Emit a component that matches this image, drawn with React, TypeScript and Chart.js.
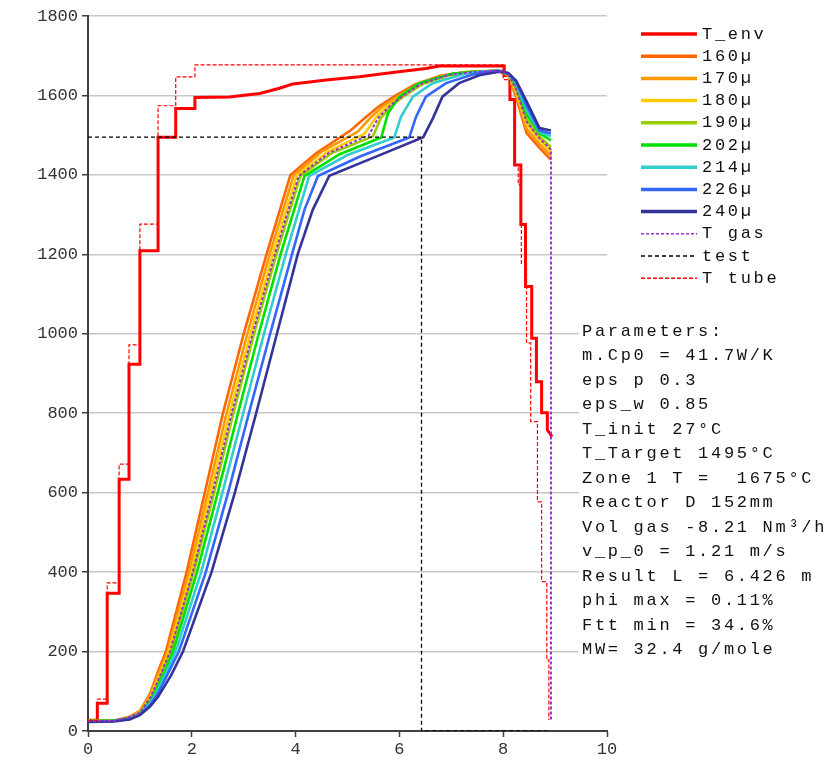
import React, { useEffect, useRef } from "react";
import { Chart, registerables } from "chart.js";

Chart.register(...registerables);

type Pt = [number, number];

// Axis ticks
const xTicks = [0, 2, 4, 6, 8, 10];
const yTicks = [0, 200, 400, 600, 800, 1000, 1200, 1400, 1600, 1800];

// Environment temperature (stepped furnace zones)
const tEnv: Pt[] = [
  [0, 27], [0.18, 27], [0.18, 70], [0.37, 70], [0.37, 347], [0.6, 347], [0.6, 634],
  [0.79, 634], [0.79, 923], [1.0, 923], [1.0, 1209], [1.35, 1209], [1.35, 1495],
  [1.69, 1495], [1.69, 1567], [2.06, 1567], [2.06, 1595], [2.73, 1596], [3.05, 1601],
  [3.31, 1605], [3.69, 1618], [3.95, 1629], [4.59, 1639], [5.23, 1647], [5.87, 1658],
  [6.51, 1668], [6.77, 1674], [8.02, 1674], [8.02, 1650], [8.13, 1650], [8.13, 1590],
  [8.22, 1590], [8.22, 1425], [8.34, 1425], [8.34, 1275], [8.43, 1275], [8.43, 1119],
  [8.55, 1119], [8.55, 989], [8.64, 989], [8.64, 879], [8.74, 879], [8.74, 801],
  [8.85, 801], [8.85, 758], [8.94, 741],
];

// Particle temperatures by diameter
const p160: Pt[] = [
  [0, 25], [0.5, 26], [0.8, 36], [1.0, 50], [1.2, 95], [1.35, 150], [1.5, 200], [1.9, 400],
  [2.25, 600], [2.6, 800], [3.0, 1000], [3.44, 1200], [3.9, 1400], [4.4, 1455], [5.07, 1513],
  [5.35, 1545], [5.6, 1572], [5.9, 1598], [6.3, 1628], [6.8, 1650], [7.3, 1659], [7.9, 1662],
  [8.1, 1650], [8.25, 1595], [8.45, 1505], [8.7, 1468], [8.92, 1438],
];
const p170: Pt[] = [
  [0, 25], [0.5, 26], [0.8, 35], [1.0, 48], [1.2, 90], [1.35, 140], [1.53, 200], [1.95, 400],
  [2.31, 600], [2.67, 800], [3.07, 1000], [3.5, 1200], [3.96, 1398], [4.5, 1458], [5.2, 1509],
  [5.45, 1545], [5.7, 1574], [6.0, 1600], [6.35, 1628], [6.85, 1650], [7.3, 1659], [7.9, 1662],
  [8.1, 1651], [8.25, 1603], [8.45, 1516], [8.7, 1478], [8.92, 1448],
];
const p180: Pt[] = [
  [0, 25], [0.5, 26], [0.8, 34], [1.0, 46], [1.2, 85], [1.35, 131], [1.56, 200], [1.99, 400],
  [2.36, 600], [2.73, 800], [3.13, 1000], [3.56, 1200], [4.02, 1398], [4.6, 1457], [5.33, 1504],
  [5.55, 1545], [5.8, 1576], [6.05, 1601], [6.4, 1629], [6.9, 1651], [7.4, 1659], [7.9, 1662],
  [8.1, 1652], [8.25, 1611], [8.45, 1528], [8.7, 1488], [8.92, 1458],
];
const p190: Pt[] = [
  [0, 25], [0.5, 26], [0.8, 33], [1.0, 45], [1.2, 80], [1.35, 122], [1.6, 200], [2.04, 400],
  [2.43, 600], [2.8, 800], [3.2, 1000], [3.63, 1200], [4.09, 1397], [4.7, 1455], [5.49, 1497],
  [5.65, 1545], [5.9, 1580], [6.15, 1604], [6.45, 1629], [6.95, 1651], [7.4, 1659], [7.9, 1662],
  [8.1, 1653], [8.25, 1619], [8.45, 1540], [8.7, 1497], [8.92, 1470],
];
const p202: Pt[] = [
  [0, 25], [0.5, 26], [0.8, 32], [1.0, 43], [1.2, 75], [1.35, 112], [1.64, 200], [2.1, 400],
  [2.5, 600], [2.89, 800], [3.29, 1000], [3.71, 1200], [4.17, 1397], [4.85, 1452], [5.65, 1494],
  [5.78, 1555], [6.0, 1597], [6.38, 1631], [7.03, 1655], [7.5, 1660], [7.9, 1662],
  [8.1, 1654], [8.25, 1626], [8.45, 1552], [8.7, 1505], [8.92, 1487],
];
const p214: Pt[] = [
  [0, 24], [0.5, 25], [0.8, 31], [1.0, 42], [1.2, 70], [1.35, 104], [1.69, 200], [2.18, 400],
  [2.59, 600], [2.99, 800], [3.39, 1000], [3.81, 1200], [4.26, 1397], [5.0, 1450], [5.9, 1494],
  [6.03, 1546], [6.26, 1597], [6.64, 1631], [7.28, 1655], [7.6, 1660], [7.9, 1662],
  [8.1, 1655], [8.25, 1630], [8.45, 1564], [8.7, 1508], [8.92, 1497],
];
const p226: Pt[] = [
  [0, 24], [0.5, 25], [0.8, 30], [1.0, 41], [1.2, 66], [1.35, 95], [1.75, 200], [2.27, 400],
  [2.7, 600], [3.1, 800], [3.51, 1000], [3.93, 1200], [4.17, 1312], [4.43, 1397], [5.25, 1447],
  [6.19, 1494], [6.32, 1546], [6.51, 1597], [6.9, 1631], [7.41, 1653], [7.7, 1660], [7.95, 1662],
  [8.1, 1656], [8.25, 1634], [8.45, 1575], [8.7, 1512], [8.92, 1504],
];
const p240: Pt[] = [
  [0, 23], [0.5, 24], [0.8, 29], [1.0, 40], [1.2, 62], [1.35, 86], [1.6, 140], [1.83, 200],
  [2.38, 400], [2.83, 600], [3.24, 800], [3.64, 1000], [4.04, 1200], [4.33, 1312], [4.65, 1398],
  [5.55, 1446], [6.46, 1495], [6.64, 1541], [6.83, 1597], [7.15, 1631], [7.54, 1651], [7.92, 1660],
  [8.1, 1656], [8.25, 1637], [8.45, 1585], [8.7, 1518], [8.92, 1512],
];

// Gas temperature
const tGas: Pt[] = [
  [0, 25], [0.5, 26], [0.8, 35], [1.0, 46], [1.2, 84], [1.35, 127], [1.58, 200], [2.02, 400],
  [2.4, 600], [2.77, 800], [3.17, 1000], [3.6, 1200], [4.06, 1397], [4.65, 1456], [5.41, 1500],
  [5.6, 1545], [5.85, 1578], [6.1, 1602], [6.42, 1629], [6.92, 1651], [7.4, 1659], [7.9, 1662],
  [8.1, 1652], [8.25, 1615], [8.45, 1534], [8.7, 1492], [8.92, 1464], [8.92, 28],
];

// Target temperature and resulting length
const testLine: Pt[] = [[0, 1495], [6.426, 1495], [6.426, 0], [8.85, 0]];

// Tube wall temperature
const tTube: Pt[] = [
  [0, 27], [0.18, 27], [0.18, 80], [0.37, 80], [0.37, 373], [0.6, 373], [0.6, 672],
  [0.79, 672], [0.79, 972], [1.0, 972], [1.0, 1276], [1.35, 1276], [1.35, 1574],
  [1.69, 1574], [1.69, 1647], [2.06, 1647], [2.06, 1677], [8.0, 1677], [8.0, 1640],
  [8.12, 1640], [8.12, 1590], [8.22, 1590], [8.22, 1425], [8.29, 1425], [8.29, 1375],
  [8.35, 1375], [8.35, 1177], [8.45, 1177], [8.45, 977], [8.53, 977], [8.53, 779],
  [8.66, 779], [8.66, 577], [8.74, 577], [8.74, 376], [8.84, 376], [8.84, 179],
  [8.88, 179], [8.88, 28],
];

const seriesLabels = ["T_env", "160µ", "170µ", "180µ", "190µ", "202µ", "214µ", "226µ", "240µ", "T gas", "test", "T tube"];
const seriesData: Pt[][] = [tEnv, p160, p170, p180, p190, p202, p214, p226, p240, tGas, testLine, tTube];
const seriesColors = ["#ff0000", "#ff6600", "#ff9900", "#ffcc00", "#99cc00", "#00e000", "#33cccc", "#3366ff", "#333399", "#9b30c8", "#000000", "#ff0000"];
const seriesWidths = [3, 2.6, 2.6, 2.6, 2.6, 2.6, 2.6, 2.6, 2.6, 2, 1.3, 1.2];
const seriesDashes: number[][] = [[], [], [], [], [], [], [], [], [], [3, 2], [4, 3], [4, 2]];

const parameterLines = [
  "Parameters:",
  "m.Cp0 = 41.7W/K",
  "eps p 0.3",
  "eps_w 0.85",
  "T_init 27°C",
  "T_Target 1495°C",
  "Zone 1 T =  1675°C",
  "Reactor D 152mm",
  "Vol gas -8.21 Nm³/h",
  "v_p_0 = 1.21 m/s",
  "Result L = 6.426 m",
  "phi max = 0.11%",
  "Ftt min = 34.6%",
  "MW= 32.4 g/mole",
];

const MONO = "'Liberation Mono', 'Courier New', monospace";
const TEXT_FONT = `17px ${MONO}`;
const TEXT_SPACING = "2.7px";

const sideLegend = {
  id: "sideLegend",
  afterDraw(chart: any) {
    const ctx = chart.ctx;
    ctx.save();
    ctx.font = TEXT_FONT;
    (ctx as any).letterSpacing = TEXT_SPACING;
    ctx.textBaseline = "middle";
    ctx.textAlign = "left";
    chart.data.datasets.forEach((ds: any, i: number) => {
      const y = 34 + i * 22.2;
      ctx.strokeStyle = ds.borderColor;
      ctx.lineWidth = ds.borderDash && ds.borderDash.length ? 1.5 : 3.5;
      ctx.setLineDash(ds.borderDash || []);
      ctx.beginPath();
      ctx.moveTo(641, y);
      ctx.lineTo(697, y);
      ctx.stroke();
      ctx.setLineDash([]);
      ctx.fillStyle = "#111111";
      ctx.fillText(ds.label, 702, y);
    });
    ctx.restore();
  },
};

const parameterBox = {
  id: "parameterBox",
  afterDatasetsDraw(chart: any) {
    const ctx = chart.ctx;
    ctx.save();
    ctx.fillStyle = "#ffffff";
    ctx.fillRect(579, 318, 259, 346);
    ctx.font = TEXT_FONT;
    (ctx as any).letterSpacing = TEXT_SPACING;
    ctx.textBaseline = "middle";
    ctx.textAlign = "left";
    ctx.fillStyle = "#111111";
    parameterLines.forEach((line, i) => {
      ctx.fillText(line, 582, 331 + i * 24.5);
    });
    ctx.restore();
  },
};

export default function App() {
  const canvasRef = useRef<HTMLCanvasElement | null>(null);

  useEffect(() => {
    const canvas = canvasRef.current;
    if (!canvas) return;
    const n = seriesData.length;
    const chart = new Chart(canvas, {
      type: "line",
      data: {
        datasets: seriesData.map((pts, i) => ({
          label: seriesLabels[i],
          data: pts.map(([x, y]) => ({ x, y })),
          borderColor: seriesColors[i],
          backgroundColor: seriesColors[i],
          borderWidth: seriesWidths[i],
          borderDash: seriesDashes[i],
          pointRadius: 0,
          tension: 0,
          fill: false,
          order: n - i,
        })),
      },
      options: {
        responsive: false,
        animation: false,
        events: [],
        layout: { padding: { left: 0, top: 16, right: 231, bottom: 0 } },
        plugins: { legend: { display: false }, tooltip: { enabled: false } },
        scales: {
          x: {
            type: "linear",
            min: 0,
            max: 10,
            afterFit: (scale: any) => {
              scale.height = 32;
            },
            afterBuildTicks: (scale: any) => {
              scale.ticks = xTicks.map((v) => ({ value: v }));
            },
            ticks: {
              color: "#333333",
              font: { family: MONO, size: 17 },
              padding: 2,
              maxRotation: 0,
              callback: (v: any) => String(v),
            },
            grid: {
              drawOnChartArea: false,
              drawTicks: true,
              tickLength: 6,
              tickColor: "#404040",
              tickWidth: 1.5,
            },
            border: { color: "#404040", width: 2 },
          },
          y: {
            type: "linear",
            min: 0,
            max: 1800,
            afterFit: (scale: any) => {
              scale.width = 88;
            },
            afterBuildTicks: (scale: any) => {
              scale.ticks = yTicks.map((v) => ({ value: v }));
            },
            ticks: {
              color: "#333333",
              font: { family: MONO, size: 17 },
              padding: 4,
              callback: (v: any) => String(v),
            },
            grid: {
              color: (c: any) => (c.tick && c.tick.value === 0 ? "rgba(0,0,0,0)" : "#c8c8c8"),
              lineWidth: 1.5,
              tickLength: 6,
              tickColor: "#404040",
              tickWidth: 1.5,
            },
            border: { color: "#404040", width: 2 },
          },
        },
      },
      plugins: [parameterBox, sideLegend],
    });
    return () => chart.destroy();
  }, []);

  return (
    <div style={{ position: "fixed", left: 0, top: 0, width: 838, height: 763, background: "#ffffff" }}>
      <canvas ref={canvasRef} width={838} height={763} style={{ display: "block" }} />
    </div>
  );
}
